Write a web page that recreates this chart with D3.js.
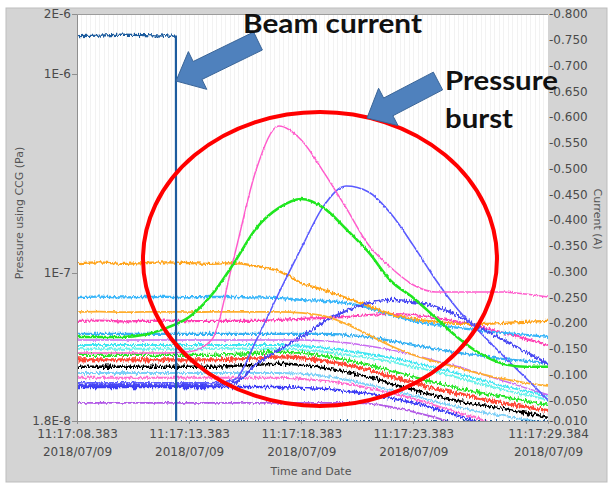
<!DOCTYPE html>
<html lang="en">
<head>
<meta charset="UTF-8">
<title>Pressure burst</title>
<script src="https://cdn.jsdelivr.net/npm/d3@7"></script>
<style>
  body { margin: 0; background: #fff; }
  svg { display: block; }
  .axis text { font-family: "DejaVu Sans", sans-serif; font-size: 12px; fill: #4a4a4a; }
  .axis line, .axis path { stroke: #8f8f8f; shape-rendering: crispEdges; }
  .title { font-family: "DejaVu Sans", sans-serif; font-size: 11px; fill: #555; }
  .note { font-family: Lato, "Open Sans", sans-serif; font-weight: bold; font-size: 26px; fill: #111; }
</style>
</head>
<body>
<svg id="chart" width="610" height="487"></svg>
<script>
// seconds after 11:17:08.383 (2018/07/09)
var timeSec = [0, 1, 2, 3, 4, 5, 6, 7, 8, 9, 10, 11, 12, 13, 14, 15, 16, 17, 18, 19, 20, 21];

// CCG pressures, in units of 1E-8 Pa
var orangeTop    = [11.2, 11.3, 11.1, 11.2, 11.3, 11.2, 11.1, 11.2, 10.8, 10.2, 8.89, 8.20, 7.48, 6.82, 6.21, 5.87, 5.67, 5.54, 5.54, 5.60, 5.67, 5.73];
var lightBlueTop = [7.56, 7.60, 7.52, 7.56, 7.58, 7.54, 7.56, 7.56, 7.52, 7.48, 7.31, 7.22, 7.06, 6.66, 6.14, 5.73, 5.47, 5.29, 5.11, 4.99, 4.88, 4.76];
var orange2      = [6.36, 6.38, 6.34, 6.36, 6.37, 6.35, 6.36, 6.36, 6.36, 6.36, 6.29, 6.07, 5.54, 4.88, 4.29, 3.87, 3.57, 3.33, 3.11, 2.93, 2.80, 2.70];
var pinkUpper    = [5.73, 5.76, 5.70, 5.73, 5.75, 5.72, 5.73, 5.73, 5.73, 5.80, 5.87, 5.93, 6.00, 6.14, 6.21, 6.14, 5.93, 5.67, 5.35, 4.99, 4.66, 4.34];
var greenBurst   = [4.76, 4.76, 4.76, 4.88, 5.29, 6.00, 7.74, 11.2, 16.8, 21.2, 23.5, 21.2, 16.6, 12.7, 9.10, 7.48, 5.93, 4.71, 3.91, 3.49, 3.37, 3.37];
var pinkBurst    = [3.96, 3.96, 3.96, 3.96, 3.96, 4.01, 4.60, 12.0, 33.3, 54.7, 46.5, 32.1, 21.2, 13.8, 10.6, 8.69, 8.01, 8.01, 8.02, 8.00, 7.83, 7.56];
var blueBurst1   = [2.80, 2.80, 2.80, 2.80, 2.80, 2.80, 2.80, 2.90, 4.60, 7.92, 13.3, 21.7, 27.3, 25.5, 19.8, 13.7, 9.21, 6.51, 4.99, 3.83, 2.97, 2.30];
var blueBurst2   = [2.74, 2.74, 2.74, 2.74, 2.74, 2.74, 2.74, 2.80, 3.49, 4.10, 4.76, 5.67, 6.43, 7.06, 7.31, 7.14, 6.74, 6.07, 5.29, 4.60, 4.01, 3.49];
var lightBlue2   = [4.93, 4.93, 4.93, 4.93, 4.93, 4.93, 4.93, 4.93, 4.93, 4.93, 4.93, 4.93, 4.88, 4.76, 4.55, 4.34, 4.15, 3.96, 3.83, 3.69, 3.61, 3.53];
var violetThin   = [4.60, 4.60, 4.60, 4.60, 4.60, 4.60, 4.60, 4.60, 4.60, 4.60, 4.60, 4.55, 4.45, 4.29, 4.10, 3.87, 3.61, 3.37, 3.11, 2.87, 2.64, 2.44];
var cyan1        = [4.34, 4.34, 4.34, 4.34, 4.34, 4.34, 4.34, 4.34, 4.34, 4.34, 4.29, 4.20, 4.05, 3.91, 3.74, 3.53, 3.33, 3.11, 2.90, 2.70, 2.55, 2.41];
var cyan2        = [4.15, 4.15, 4.15, 4.15, 4.15, 4.15, 4.15, 4.15, 4.15, 4.15, 4.10, 4.01, 3.87, 3.74, 3.57, 3.37, 3.18, 2.97, 2.77, 2.58, 2.44, 2.30];
var green2       = [3.87, 3.87, 3.87, 3.87, 3.87, 3.87, 3.87, 3.91, 3.96, 4.01, 3.96, 3.83, 3.65, 3.45, 3.22, 3.00, 2.80, 2.64, 2.49, 2.38, 2.27, 2.17];
var red1         = [3.65, 3.65, 3.65, 3.65, 3.65, 3.65, 3.65, 3.69, 3.74, 3.78, 3.74, 3.61, 3.45, 3.25, 3.00, 2.80, 2.61, 2.47, 2.33, 2.22, 2.12, 2.03];
var black1       = [3.37, 3.37, 3.37, 3.37, 3.37, 3.37, 3.37, 3.41, 3.45, 3.49, 3.45, 3.33, 3.18, 3.00, 2.77, 2.58, 2.41, 2.27, 2.17, 2.07, 1.98, 1.89];
var lightBlue3   = [3.14, 3.14, 3.14, 3.14, 3.14, 3.14, 3.14, 3.14, 3.14, 3.14, 3.11, 3.04, 2.90, 2.74, 2.58, 2.41, 2.25, 2.12, 2.00, 1.91, 1.83, 1.74];
var pink3        = [2.97, 2.97, 2.97, 2.97, 2.97, 2.97, 2.97, 2.97, 2.97, 2.97, 2.93, 2.87, 2.77, 2.64, 2.49, 2.33, 2.15, 1.98, 1.83, 1.68, 1.57, 1.46];
var blue3        = [2.67, 2.67, 2.67, 2.67, 2.67, 2.67, 2.67, 2.67, 2.67, 2.67, 2.64, 2.61, 2.55, 2.47, 2.35, 2.22, 2.07, 1.91, 1.76, 1.62, 1.50, 1.39];
var violetLow    = [2.22, 2.22, 2.22, 2.22, 2.22, 2.22, 2.22, 2.22, 2.22, 2.22, 2.22, 2.22, 2.22, 2.20, 2.12, 2.00, 1.87, 1.72, 1.59, 1.46, 1.35, 1.24];

// beam current (A), right axis
var beamTime    = [0, 1, 2, 3, 4, 4.41, 4.42, 21];
var beamCurrent = [-0.757, -0.758, -0.760, -0.759, -0.758, -0.758, -0.008, -0.008];

var pressureTicks = [2e-6, 1e-6, 1e-7, 1.8e-8];
var pressureLabels = ["2E-6", "1E-6", "1E-7", "1.8E-8"];
var currentTicks = [-0.8, -0.75, -0.7, -0.65, -0.6, -0.55, -0.5, -0.45, -0.4, -0.35, -0.3, -0.25, -0.2, -0.15, -0.1, -0.05, -0.01];
var timeTickSec = [0, 5, 10, 15, 20];

var UNIT = 1e-8;
var t0 = new Date(2018, 6, 9, 11, 17, 8, 383);
var tEnd = new Date(2018, 6, 9, 11, 17, 29, 384);
function at(s) { return new Date(+t0 + s * 1000); }

// draw order (back to front), colour, width, noise group
var series = [
  { v: violetLow,    c: "#b25ae6", w: 1.8, n: "light" },
  { v: blue3,        c: "#3c3cf5", w: 2.4, n: "heavy" },
  { v: pink3,        c: "#ff6ccf", w: 2.0, n: "mid" },
  { v: lightBlue3,   c: "#7ccff7", w: 2.0, n: "mid" },
  { v: cyan2,        c: "#6af2ea", w: 2.0, n: "mid" },
  { v: cyan1,        c: "#3fe6f2", w: 2.0, n: "mid" },
  { v: violetThin,   c: "#c86af0", w: 1.5, n: "light" },
  { v: lightBlue2,   c: "#36b0f2", w: 2.2, n: "mid" },
  { v: pinkUpper,    c: "#ff40b4", w: 2.2, n: "mid" },
  { v: orange2,      c: "#ffae2e", w: 1.8, n: "light" },
  { v: lightBlueTop, c: "#38b6fa", w: 2.3, n: "mid" },
  { v: orangeTop,    c: "#ffa41c", w: 2.3, n: "mid" },
  { v: green2,       c: "#28e628", w: 2.4, n: "heavy" },
  { v: red1,         c: "#ff4836", w: 3.2, n: "heavy" },
  { v: black1,       c: "#000000", w: 2.4, n: "heavy" },
  { v: blueBurst2,   c: "#4848f2", w: 2.4, n: "heavy" },
  { v: blueBurst1,   c: "#5a5aff", w: 1.6, n: "light" },
  { v: pinkBurst,    c: "#ff5ccc", w: 1.5, n: "light" },
  { v: greenBurst,   c: "#1fe61f", w: 2.6, n: "light" }
];

var svg = d3.select("#chart");
var plotL = 77, plotR = 548, plotT = 14, plotB = 421;

var x = d3.scaleTime().domain([t0, tEnd]).range([plotL, plotR]);
var y = d3.scaleLog().domain([1.8e-8, 2e-6]).range([plotB, plotT]);
var yR = d3.scaleLinear().domain([-0.01, -0.8]).range([plotB, plotT]);

var defs = svg.append("defs");
defs.append("clipPath").attr("id", "plotClip")
  .append("rect").attr("x", plotL).attr("y", plotT).attr("width", plotR - plotL).attr("height", plotB - plotT);

// jitter along y only, so the traces look like sampled gauge readings
function addNoise(id, scale, seed) {
  var f = defs.append("filter").attr("id", id)
    .attr("filterUnits", "userSpaceOnUse")
    .attr("x", 60).attr("y", 0).attr("width", 520).attr("height", 470)
    .attr("color-interpolation-filters", "sRGB");
  f.append("feTurbulence").attr("type", "fractalNoise")
    .attr("baseFrequency", "0.55 0.15").attr("numOctaves", 2).attr("seed", seed).attr("result", "n");
  f.append("feColorMatrix").attr("in", "n").attr("type", "matrix")
    .attr("values", "0 0 0 0 0.5  0 1 0 0 0  0 0 0 0 0  0 0 0 0 1").attr("result", "m");
  f.append("feDisplacementMap").attr("in", "SourceGraphic").attr("in2", "m")
    .attr("scale", scale).attr("xChannelSelector", "R").attr("yChannelSelector", "G");
}
addNoise("noise-light", 3, 3);
addNoise("noise-mid", 5, 7);
addNoise("noise-heavy", 7, 11);

// panel
svg.append("rect").attr("x", 6).attr("y", 8).attr("width", 601).attr("height", 474)
  .attr("fill", "#d4d4d4").attr("stroke", "#bdbdbd");
svg.append("rect").attr("x", plotL).attr("y", plotT).attr("width", plotR - plotL).attr("height", plotB - plotT)
  .attr("fill", "#fff");

// faint vertical grid
svg.append("g").selectAll("line")
  .data(d3.range(0.2, 21, 0.2))
  .join("line")
  .attr("x1", function(d) { return Math.round(x(at(d))) + 0.5; })
  .attr("x2", function(d) { return Math.round(x(at(d))) + 0.5; })
  .attr("y1", plotT).attr("y2", plotB)
  .attr("stroke", "#f2f2f2");

svg.append("line").attr("x1", plotL).attr("x2", plotR).attr("y1", plotT + 0.5).attr("y2", plotT + 0.5)
  .attr("stroke", "#9c9c9c");

// lines
var plot = svg.append("g").attr("clip-path", "url(#plotClip)");
var line = d3.line()
  .x(function(d, i) { return x(at(timeSec[i])); })
  .y(function(d) { return y(d * UNIT); })
  .curve(d3.curveMonotoneX);

var groups = {};
["mid", "heavy", "light"].forEach(function(k) {
  groups[k] = plot.append("g").attr("filter", "url(#noise-" + k + ")");
});
series.forEach(function(s) {
  groups[s.n].append("path")
    .attr("d", line(s.v))
    .attr("fill", "none")
    .attr("stroke", s.c)
    .attr("stroke-width", s.w);
});

var beamLine = d3.line()
  .x(function(d, i) { return x(at(beamTime[i])); })
  .y(function(d) { return yR(d); });
plot.append("g").attr("filter", "url(#noise-heavy)")
  .append("path")
  .attr("d", beamLine(beamCurrent))
  .attr("fill", "none")
  .attr("stroke", "#1d5c9e")
  .attr("stroke-width", 2.2);

// axes
svg.append("g").attr("class", "axis")
  .attr("transform", "translate(" + plotL + ",0)")
  .call(d3.axisLeft(y).tickValues(pressureTicks)
    .tickFormat(function(d, i) { return pressureLabels[i]; })
    .tickSize(5).tickSizeOuter(0).tickPadding(1));

var rAxis = svg.append("g").attr("class", "axis")
  .attr("transform", "translate(" + plotR + ",0)")
  .call(d3.axisRight(yR).tickValues(currentTicks)
    .tickFormat(function(d) { return "-" + Math.abs(d).toFixed(3); })
    .tickSize(0).tickPadding(1));
rAxis.select(".domain").remove();

var xTicks = timeTickSec.map(at).concat([tEnd]);
var xAxis = svg.append("g").attr("class", "axis")
  .attr("transform", "translate(0," + plotB + ")")
  .call(d3.axisBottom(x).tickValues(xTicks).tickFormat(function() { return ""; })
    .tickSize(3).tickSizeOuter(0));
var fTime = d3.timeFormat("%H:%M:%S.%L"), fDate = d3.timeFormat("%Y/%m/%d");
xAxis.selectAll(".tick").each(function(d) {
  if (+d === +at(20)) return;
  var g = d3.select(this);
  g.append("text").attr("y", 17).attr("text-anchor", "middle").attr("fill", "#4a4a4a").text(fTime(d));
  g.append("text").attr("y", 35).attr("text-anchor", "middle").attr("fill", "#4a4a4a").text(fDate(d));
});

svg.append("text").attr("class", "title").attr("x", 311).attr("y", 475)
  .attr("text-anchor", "middle").text("Time and Date");
svg.append("text").attr("class", "title").attr("text-anchor", "middle")
  .attr("transform", "translate(23,213) rotate(-90)").text("Pressure using CCG (Pa)");
svg.append("text").attr("class", "title").attr("text-anchor", "middle")
  .attr("transform", "translate(594,219) rotate(90)").text("Current (A)");

// annotations
svg.append("ellipse").attr("cx", 320).attr("cy", 259).attr("rx", 177).attr("ry", 147)
  .attr("fill", "none").attr("stroke", "#ff0000").attr("stroke-width", 4);

function arrowPts(tail, tip, sh, hh, hl) {
  var dx = tip[0] - tail[0], dy = tip[1] - tail[1], L = Math.hypot(dx, dy);
  var ux = dx / L, uy = dy / L, nx = -uy, ny = ux;
  var bx = tip[0] - ux * hl, by = tip[1] - uy * hl;
  return [[tail[0] + nx * sh, tail[1] + ny * sh], [bx + nx * sh, by + ny * sh], [bx + nx * hh, by + ny * hh],
    tip, [bx - nx * hh, by - ny * hh], [bx - nx * sh, by - ny * sh], [tail[0] - nx * sh, tail[1] - ny * sh]];
}
[[[258, 41], [176, 81]], [[438, 81], [367, 118]]].forEach(function(a) {
  svg.append("polygon")
    .attr("points", arrowPts(a[0], a[1], 10, 21, 24).map(function(p) { return p.join(","); }).join(" "))
    .attr("fill", "#4f81bd").attr("stroke", "#3a6598").attr("stroke-width", 1);
});

svg.append("text").attr("class", "note").attr("x", 243).attr("y", 33)
  .attr("textLength", 179).attr("lengthAdjust", "spacingAndGlyphs").text("Beam current");
svg.append("text").attr("class", "note").attr("x", 445).attr("y", 90)
  .attr("textLength", 113).attr("lengthAdjust", "spacingAndGlyphs").text("Pressure");
svg.append("text").attr("class", "note").attr("x", 445).attr("y", 128)
  .attr("textLength", 68).attr("lengthAdjust", "spacingAndGlyphs").text("burst");
</script>
</body>
</html>
